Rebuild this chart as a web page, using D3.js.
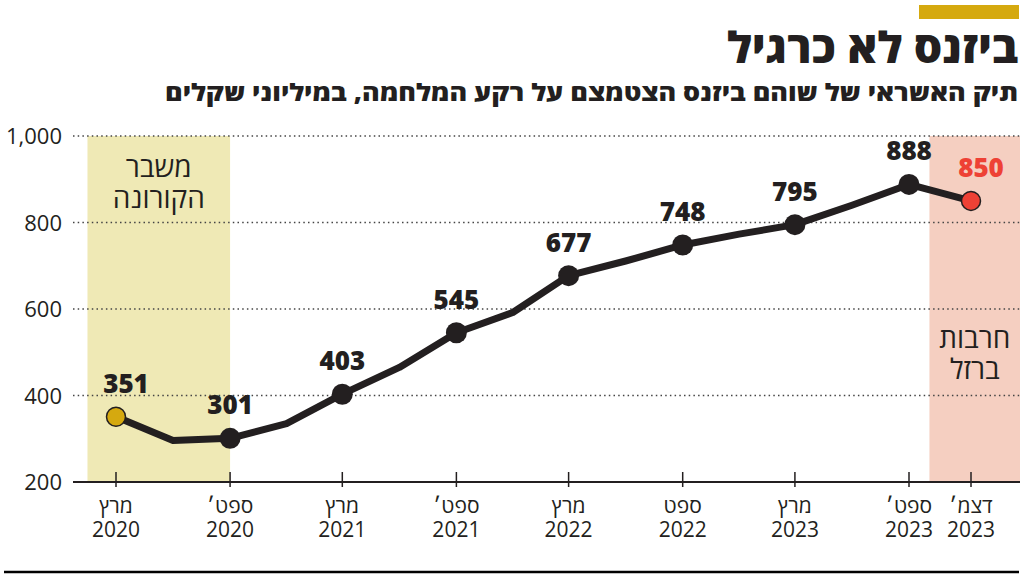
<!DOCTYPE html>
<html lang="he">
<head>
<meta charset="utf-8">
<script src="https://cdn.jsdelivr.net/npm/d3@7"></script>
<style>
  html, body { margin: 0; padding: 0; background: #fff; }
  svg text { font-family: "Open Sans", "Liberation Sans", "DejaVu Sans", sans-serif; fill: #231f20; }
</style>
</head>
<body>
<svg id="chart" width="1024" height="576"></svg>
<script>
// quarterly credit portfolio, millions of shekels
const months = ["2020-03", "2020-06", "2020-09", "2020-12", "2021-03", "2021-06", "2021-09", "2021-12",
  "2022-03", "2022-06", "2022-09", "2022-12", "2023-03", "2023-06", "2023-09", "2023-12"];
const credit = [351, 296, 301, 335, 403, 465, 545, 592, 677, 711, 748, 773, 795, 840, 888, 850];

// x axis ticks (these months also get a dot + value label)
const tickMonths = ["2020-03", "2020-09", "2021-03", "2021-09", "2022-03", "2022-09", "2023-03", "2023-09", "2023-12"];
const tickNames = ["מרץ", "ספט׳", "מרץ", "ספט׳", "מרץ", "ספט", "מרץ", "ספט׳", "דצמ׳"];
const tickYears = ["2020", "2020", "2021", "2021", "2022", "2022", "2023", "2023", "2023"];

const yTicks = [200, 400, 600, 800, 1000];

// shaded periods
const periods = [
  { from: "2020-01-15", to: "2020-09-01", lines: ["משבר", "הקורונה"] },
  { from: "2023-10-01", to: null, lines: ["חרבות", "ברזל"] }
];

const parse = d3.timeParse("%Y-%m");
const parseDay = d3.timeParse("%Y-%m-%d");
const ink = "#231f20";

const svg = d3.select("#chart");
const left = 73, right = 1020;

// last step (sep -> dec 2023) is drawn a bit wider in the original
const x = d3.scaleTime()
  .domain([parse("2020-03"), parse("2023-09"), parse("2023-12")])
  .range([116, 909, 971]);
const y = d3.scaleLinear()
  .domain([200, 1000])
  .range([482, 136]);

// top bar + titles
svg.append("rect")
  .attr("x", 919).attr("y", 5).attr("width", 100).attr("height", 14)
  .attr("fill", "#d5a90f");

svg.append("text")
  .attr("x", 1018).attr("y", 63)
  .attr("text-anchor", "end")
  .attr("textLength", 291).attr("lengthAdjust", "spacingAndGlyphs")
  .style("font-size", "43px").style("font-weight", 800)
  .text("ביזנס לא כרגיל");

svg.append("text")
  .attr("x", 1018).attr("y", 101)
  .attr("text-anchor", "end")
  .attr("textLength", 853).attr("lengthAdjust", "spacingAndGlyphs")
  .style("font-size", "24px").style("font-weight", 800)
  .text("תיק האשראי של שוהם ביזנס הצטמצם על רקע המלחמה, במיליוני שקלים");

// shaded backgrounds
const shade = svg.append("g");
const shadeColors = ["#efe9b5", "#f5cfc1"];
periods.forEach((p, i) => {
  const x0 = x(parseDay(p.from));
  const x1 = p.to ? x(parseDay(p.to)) : right;
  shade.append("rect")
    .attr("x", x0).attr("y", y(1000))
    .attr("width", x1 - x0).attr("height", y(200) - y(1000))
    .attr("fill", shadeColors[i]);
});

// grid
svg.append("g")
  .selectAll("line")
  .data(yTicks.filter(d => d > 200))
  .join("line")
  .attr("x1", left).attr("x2", right)
  .attr("y1", d => y(d)).attr("y2", d => y(d))
  .attr("stroke", "#444").attr("stroke-width", 1.5)
  .attr("stroke-dasharray", "1.5,3.2");

// period labels
periods.forEach((p, i) => {
  const x0 = x(parseDay(p.from));
  const x1 = p.to ? x(parseDay(p.to)) : right;
  const cx = (x0 + x1) / 2;
  const baseY = i === 0 ? 177 : 348;
  const t = svg.append("text")
    .attr("x", cx).attr("y", baseY)
    .attr("text-anchor", "middle")
    .style("font-size", "28px");
  p.lines.forEach((l, j) => {
    t.append("tspan").attr("x", cx).attr("dy", j === 0 ? 0 : 31).text(l);
  });
});

// y axis
const yAxis = svg.append("g")
  .attr("transform", `translate(${left},0)`)
  .call(d3.axisLeft(y).tickValues(yTicks).tickFormat(d3.format(",")).tickSize(0).tickPadding(11));
yAxis.select(".domain").remove();
yAxis.selectAll("text")
  .style("font-size", "22px")
  .attr("fill", ink)
  .attr("dy", "0.36em");

// x axis baseline + ticks
svg.append("line")
  .attr("x1", left).attr("x2", right)
  .attr("y1", y(200)).attr("y2", y(200))
  .attr("stroke", ink).attr("stroke-width", 2);

const xt = svg.append("g")
  .selectAll("g")
  .data(tickMonths)
  .join("g")
  .attr("transform", d => `translate(${x(parse(d))},0)`);
xt.append("line")
  .attr("y1", y(200) - 10).attr("y2", y(200) + 5)
  .attr("stroke", ink).attr("stroke-width", 1.5);
const xl = xt.append("text")
  .attr("y", 513).attr("text-anchor", "middle")
  .style("font-size", "21px");
xl.append("tspan").attr("x", 0).text((d, i) => tickNames[i]);
xl.append("tspan").attr("x", 0).attr("dy", 24).text((d, i) => tickYears[i]);

// line
const pts = months.map((m, i) => ({ date: parse(m), value: credit[i], key: m }));
svg.append("path")
  .datum(pts)
  .attr("fill", "none")
  .attr("stroke", ink)
  .attr("stroke-width", 7)
  .attr("stroke-linejoin", "round")
  .attr("d", d3.line().x(d => x(d.date)).y(d => y(d.value)));

const marked = pts.filter(d => tickMonths.includes(d.key));
const last = marked.length - 1;

svg.append("g")
  .selectAll("circle")
  .data(marked)
  .join("circle")
  .attr("cx", d => x(d.date))
  .attr("cy", d => y(d.value))
  .attr("r", (d, i) => (i === 0 || i === last) ? 9.5 : 10.5)
  .attr("fill", (d, i) => i === 0 ? "#d5a90f" : i === last ? "#ee4135" : ink)
  .attr("stroke", ink)
  .attr("stroke-width", (d, i) => (i === 0 || i === last) ? 1.5 : 0);

svg.append("g")
  .selectAll("text")
  .data(marked)
  .join("text")
  .attr("x", (d, i) => x(d.date) + ((i === 0 || i === last) ? 10 : 0))
  .attr("y", d => y(d.value) - 24)
  .attr("text-anchor", "middle")
  .style("font-size", "26px")
  .style("font-weight", 800)
  .style("fill", (d, i) => i === last ? "#ee4135" : ink)
  .text(d => d.value);

// bottom rule
svg.append("line")
  .attr("x1", 4).attr("x2", 1019)
  .attr("y1", 572).attr("y2", 572)
  .attr("stroke", "#000").attr("stroke-width", 2.5);
</script>
</body>
</html>
